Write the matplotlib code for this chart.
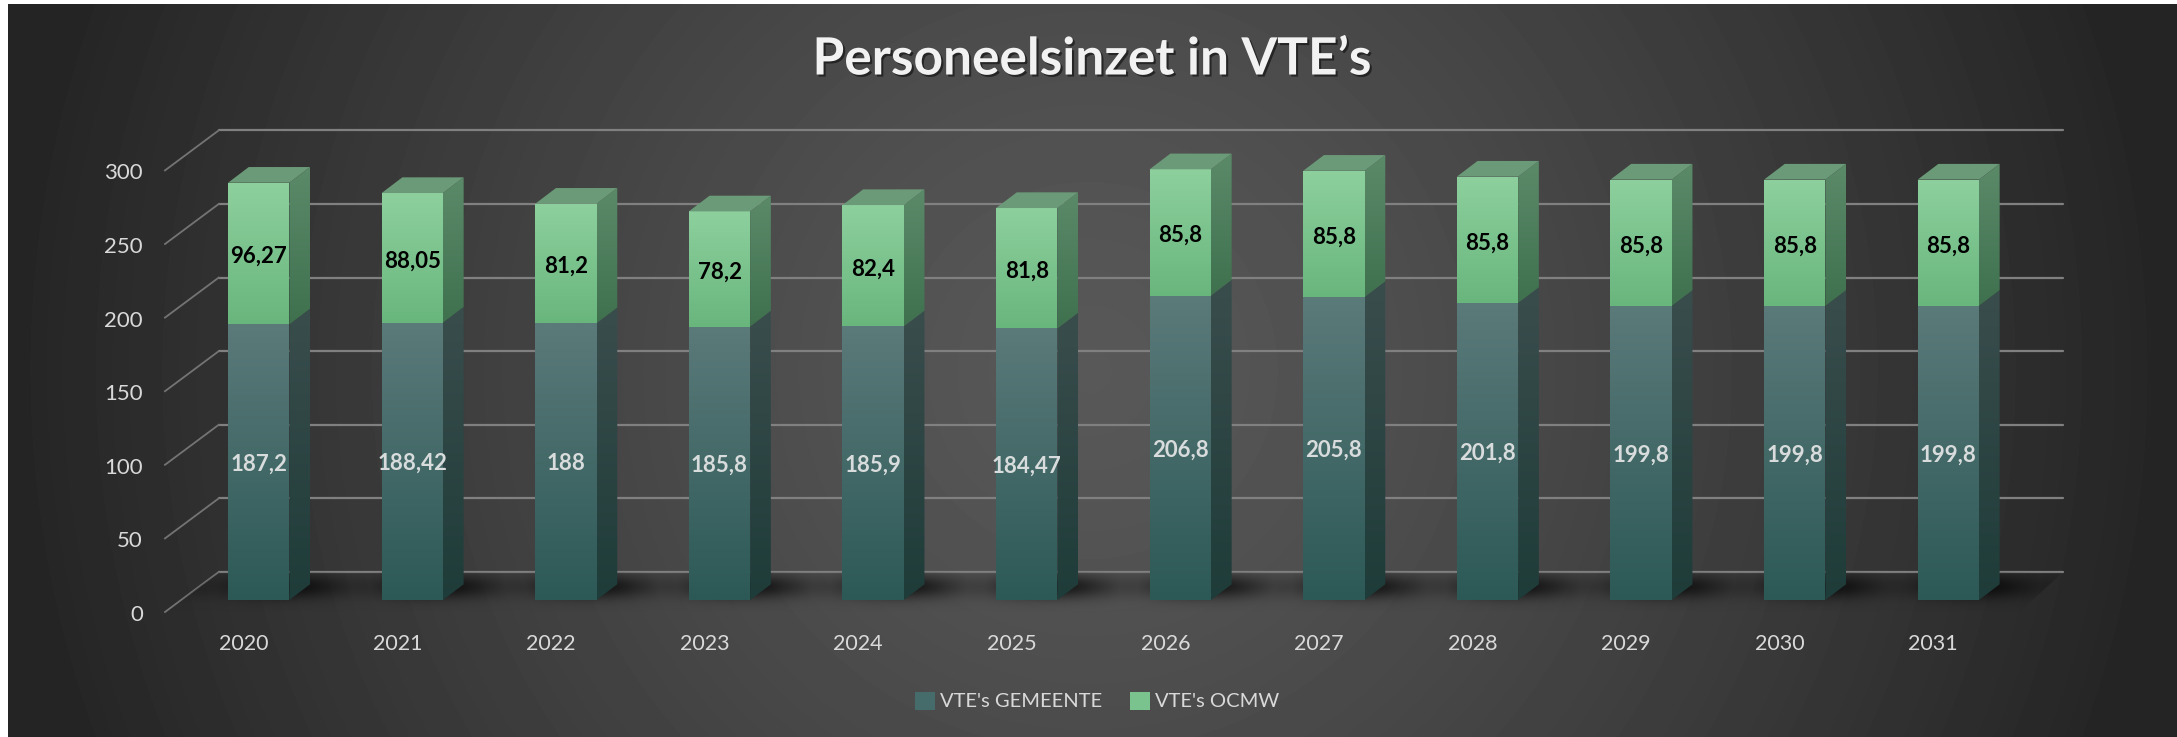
import numpy as np
import matplotlib
matplotlib.use("Agg")
import matplotlib.pyplot as plt
import matplotlib.patheffects as pe
from matplotlib.colors import to_rgb
from matplotlib.patches import Patch, Polygon, Rectangle

# Data
years = ["2020", "2021", "2022", "2023", "2024", "2025", "2026", "2027", "2028", "2029", "2030", "2031"]
gemeente = [187.2, 188.42, 188, 185.8, 185.9, 184.47, 206.8, 205.8, 201.8, 199.8, 199.8, 199.8]
ocmw = [96.27, 88.05, 81.2, 78.2, 82.4, 81.8, 85.8, 85.8, 85.8, 85.8, 85.8, 85.8]
y_ticks = [0, 50, 100, 150, 200, 250, 300]
series_names = ["VTE's GEMEENTE", "VTE's OCMW"]


def fmt(v):
    return f"{v:g}".replace(".", ",")


W, H = 2177, 737
X0_PX, BASE_PX = 258.7, 600.0   # where category 0 / value 0 land
STEP_PX, UNIT_PX = 153.6, 1.472  # pixels per category, pixels per value unit

plt.rcParams["font.family"] = ["Lato", "DejaVu Sans"]
fig = plt.figure(figsize=(W / 100, H / 100), dpi=100)
ax = fig.add_axes([0, 0, 1, 1])
ax.axis("off")

xlim = (-X0_PX / STEP_PX, (W - X0_PX) / STEP_PX)
ylim = ((BASE_PX - H) / UNIT_PX, BASE_PX / UNIT_PX)


def dx(px):
    return px / STEP_PX


def dy(px):
    return px / UNIT_PX


def gradient_face(verts, top, bottom, zorder):
    poly = Polygon(verts, closed=True, fc="none", ec="none", zorder=zorder)
    ax.add_patch(poly)
    t = np.linspace(0, 1, 128)[:, None, None]
    grad = np.array(to_rgb(top))[None, None, :] * (1 - t) + np.array(to_rgb(bottom))[None, None, :] * t
    xs = [p[0] for p in verts]
    ys = [p[1] for p in verts]
    im = ax.imshow(grad, extent=(min(xs), max(xs), min(ys), max(ys)), aspect="auto",
                   origin="upper", interpolation="bilinear", zorder=zorder)
    im.set_clip_path(poly)


# Radial background
px, py = np.meshgrid(np.arange(W), np.arange(H))
r = np.hypot(px - W / 2, py - 370) / (W / 2)
bg = (88 - 52 * np.clip(r, 0, 1) ** 1.3) / 255
ax.imshow(bg, extent=(*xlim, *ylim), aspect="auto", origin="upper", cmap="gray", vmin=0, vmax=1, zorder=0)

# Back wall gridlines + the diagonal bit on the side
back_x0, back_x1 = dx(218.7 - X0_PX), dx(2062.7 - X0_PX)
side_x = dx(165 - X0_PX)
for v in y_ticks:
    ax.plot([back_x0, back_x1], [v + dy(28), v + dy(28)], color="#808080", lw=1.6, zorder=1,
            solid_capstyle="round")
    ax.plot([side_x, back_x0], [v + dy(-12), v + dy(28)], color="#747474", lw=1.3, zorder=1)
    ax.text(dx(143 - X0_PX), v + dy(-13), str(v), ha="right", va="center_baseline",
            fontsize=16, color="#d9d9d9", zorder=6)

# Floor shadow, blurred band that gets darker near the bars
sy = np.arange(560, 612)
sx = np.arange(150, 2080)
band = np.exp(-((sy - 586) / 12.0) ** 2)[:, None]
along = np.full(sx.shape, 0.3)
for i in range(len(years)):
    along = np.maximum(along, np.exp(-((sx - (X0_PX + 25 + i * STEP_PX)) / 62.0) ** 2))
alpha = band * along[None, :] * 0.72
shadow = np.zeros((*alpha.shape, 4))
shadow[..., 3] = alpha
floor = Polygon([(side_x, dy(-12)), (back_x0, dy(28)), (back_x1, dy(28)), (side_x + dx(1855), dy(-12))],
                closed=True, fc="none", ec="none", zorder=2)
ax.add_patch(floor)
im = ax.imshow(shadow, extent=(dx(150 - X0_PX), dx(2080 - X0_PX), dy(BASE_PX - 612), dy(BASE_PX - 560)),
               aspect="auto", origin="upper", zorder=2)
im.set_clip_path(floor)

# Stacked 3D bars
half = dx(61.3) / 2
depth_x, depth_y = dx(20.7), dy(15.7)
for i, (g, o) in enumerate(zip(gemeente, ocmw)):
    xl, xr = i - half, i + half
    total = g + o
    # gemeente front + side
    gradient_face([(xl, 0), (xr, 0), (xr, g), (xl, g)], "#5b7a7a", "#2c5956", 3)
    gradient_face([(xr, 0), (xr + depth_x, depth_y), (xr + depth_x, g + depth_y), (xr, g)],
                  "#3a4d4d", "#1e3c39", 3)
    # ocmw front + side + top
    gradient_face([(xl, g), (xr, g), (xr, total), (xl, total)], "#8dd09e", "#69b67d", 4)
    gradient_face([(xr, g), (xr + depth_x, g + depth_y), (xr + depth_x, total + depth_y), (xr, total)],
                  "#5b8a69", "#3f714f", 4)
    ax.add_patch(Polygon([(xl, total), (xr, total), (xr + depth_x, total + depth_y), (xl + depth_x, total + depth_y)],
                         closed=True, fc="#6b9a78", ec="none", zorder=4))
    ax.text(i, g / 2, fmt(g), ha="center", va="center_baseline", fontsize=16, fontweight="bold",
            color="#d8dcdc", zorder=6)
    ax.text(i, g + o / 2 - dy(1), fmt(o), ha="center", va="center_baseline", fontsize=16, fontweight="bold",
            color="black", zorder=6)
    ax.text(i - dx(15), dy(BASE_PX - 642), years[i], ha="center", va="center_baseline", fontsize=15.5,
            color="#d9d9d9", zorder=6)

# White strips the screenshot has at the top and left
ax.add_patch(Rectangle((xlim[0], dy(BASE_PX - 4)), dx(W), dy(8), fc="white", ec="none", zorder=7))
ax.add_patch(Rectangle((xlim[0], ylim[0]), dx(8), ylim[1] - ylim[0], fc="white", ec="none", zorder=7))

# Title
ax.text(dx(1092 - X0_PX), dy(BASE_PX - 60), "Personeelsinzet in VTE’s", ha="center", va="center",
        fontsize=37, fontweight="bold", color="#f2f2f2", zorder=6,
        path_effects=[pe.withSimplePatchShadow(offset=(1.5, -1.5), shadow_rgbFace="black", alpha=0.5)])

# Legend
handles = [Patch(fc="#456c6b", ec="none"), Patch(fc="#7bc38e", ec="none")]
leg = ax.legend(handles, series_names, loc="center", bbox_to_anchor=(1097 / W, 1 - 701 / H), ncol=2,
                frameon=False, fontsize=14.5, labelcolor="#d9d9d9", handlelength=1.0, handleheight=1.0,
                handletextpad=0.25, columnspacing=1.4, borderpad=0)
leg.set_zorder(6)

ax.set_xlim(xlim)
ax.set_ylim(ylim)

fig.savefig("out.png", dpi=100)
